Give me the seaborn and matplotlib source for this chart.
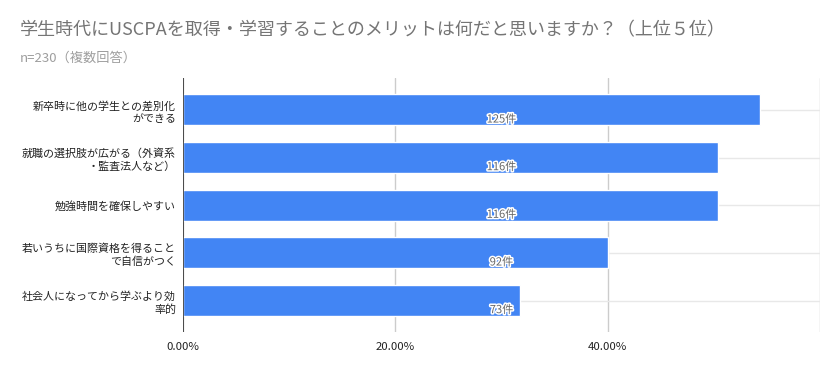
import matplotlib
matplotlib.use("Agg")
import matplotlib.pyplot as plt
import matplotlib.patheffects as pe
import seaborn as sns

# data
categories = [
    "新卒時に他の学生との差別化\nができる",
    "就職の選択肢が広がる（外資系\n・監査法人など）",
    "勉強時間を確保しやすい",
    "若いうちに国際資格を得ること\nで自信がつく",
    "社会人になってから学ぶより効\n率的",
]
counts = [125, 116, 116, 92, 73]
n_total = 230
pct = [c / n_total for c in counts]
xticks = [0, 0.2, 0.4, 0.6]
xticklabels = ["0.00%", "20.00%", "40.00%", ""]

sns.set_style("white")
plt.rcParams["font.family"] = ["Noto Sans CJK JP", "DejaVu Sans"]

fig = plt.figure(figsize=(8.39, 3.71), dpi=100)
ax = fig.add_axes([0.2181, 0.1051, 0.7593, 0.6846])

sns.barplot(x=pct, y=categories, orient="h", color="#4285F4",
            saturation=1, width=0.65, ax=ax)

ax.set_xlim(0, 0.6)
ax.set_ylim(4.66, -0.67)
ax.set_axisbelow(True)
ax.xaxis.grid(True, color="#cccccc", linewidth=1)
ax.yaxis.grid(True, color="#e8e8e8", linewidth=1)
ax.axvline(0, color="#333333", linewidth=1.2, zorder=5)
sns.despine(ax=ax, left=True, bottom=True)

ax.set_xticks(xticks)
ax.set_xticklabels(xticklabels, fontsize=8.2, color="#222222")
ax.tick_params(axis="both", length=0)
ax.tick_params(axis="x", pad=7)
ax.tick_params(axis="y", pad=5)
for lab in ax.get_yticklabels():
    lab.set_fontsize(7.9)
    lab.set_color("#222222")
    lab.set_linespacing(1.3)
ax.set_xlabel("")
ax.set_ylabel("")

for i, c in enumerate(counts):
    ax.text(0.30, i + 0.2, f"{c}件", ha="center", va="center", fontsize=8,
            color="#666666",
            path_effects=[pe.withStroke(linewidth=2.2, foreground="white")])

fig.text(20 / 839, 1 - 30 / 371, "学生時代にUSCPAを取得・学習することのメリットは何だと思いますか？（上位５位）",
         fontsize=13, color="#757575", va="center", ha="left")
fig.text(20 / 839, 1 - 58 / 371, "n=230（複数回答）", fontsize=9.5,
         color="#9e9e9e", va="center", ha="left")

fig.savefig("out.png", dpi=100)
